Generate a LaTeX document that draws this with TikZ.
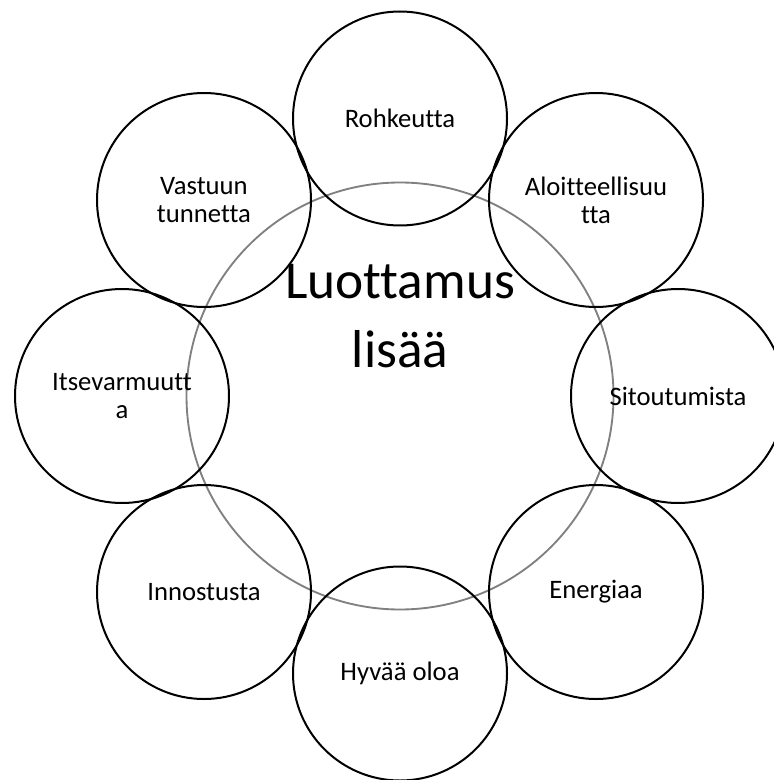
\documentclass[tikz,border=0pt]{standalone}
\usepackage{fontspec}
\setmainfont{Carlito}[Ligatures=NoCommon]
\definecolor{ringgray}{RGB}{128,128,128}
\begin{document}
\begin{tikzpicture}[x=0.75pt,y=-0.75pt,
  petal/.style={circle,draw=black,line width=1.5pt,minimum size=160.5pt,inner sep=0pt,
    align=center,font=\fontsize{20}{21}\selectfont},
  hub/.style={circle,draw=ringgray,line width=1.4pt,minimum size=320.25pt,inner sep=0pt},
  hubtext/.style={align=center,font=\fontsize{40}{52}\selectfont,inner sep=0pt}]
\useasboundingbox (0,0) rectangle (773,780);
\node[hub] (hub) at (400,396) {};
\node[hubtext] (hubtxt) at (400,316) {Luottamus\\lisää};
\node[petal] (p1) at (400,118.5) {Rohkeutta};
\node[petal] (p2) at (596,200) {Aloitteellisuu\\tta};
\node[petal] (p3) at (678,396) {Sitoutumista};
\node[petal] (p4) at (596,592) {Energiaa};
\node[petal] (p5) at (400,673.5) {Hyvää oloa};
\node[petal] (p6) at (204,592) {Innostusta};
\node[petal] (p7) at (122,396) {Itsevarmuutt\\a};
\node[petal] (p8) at (204,200) {Vastuun\\tunnetta};
\end{tikzpicture}
\end{document}
